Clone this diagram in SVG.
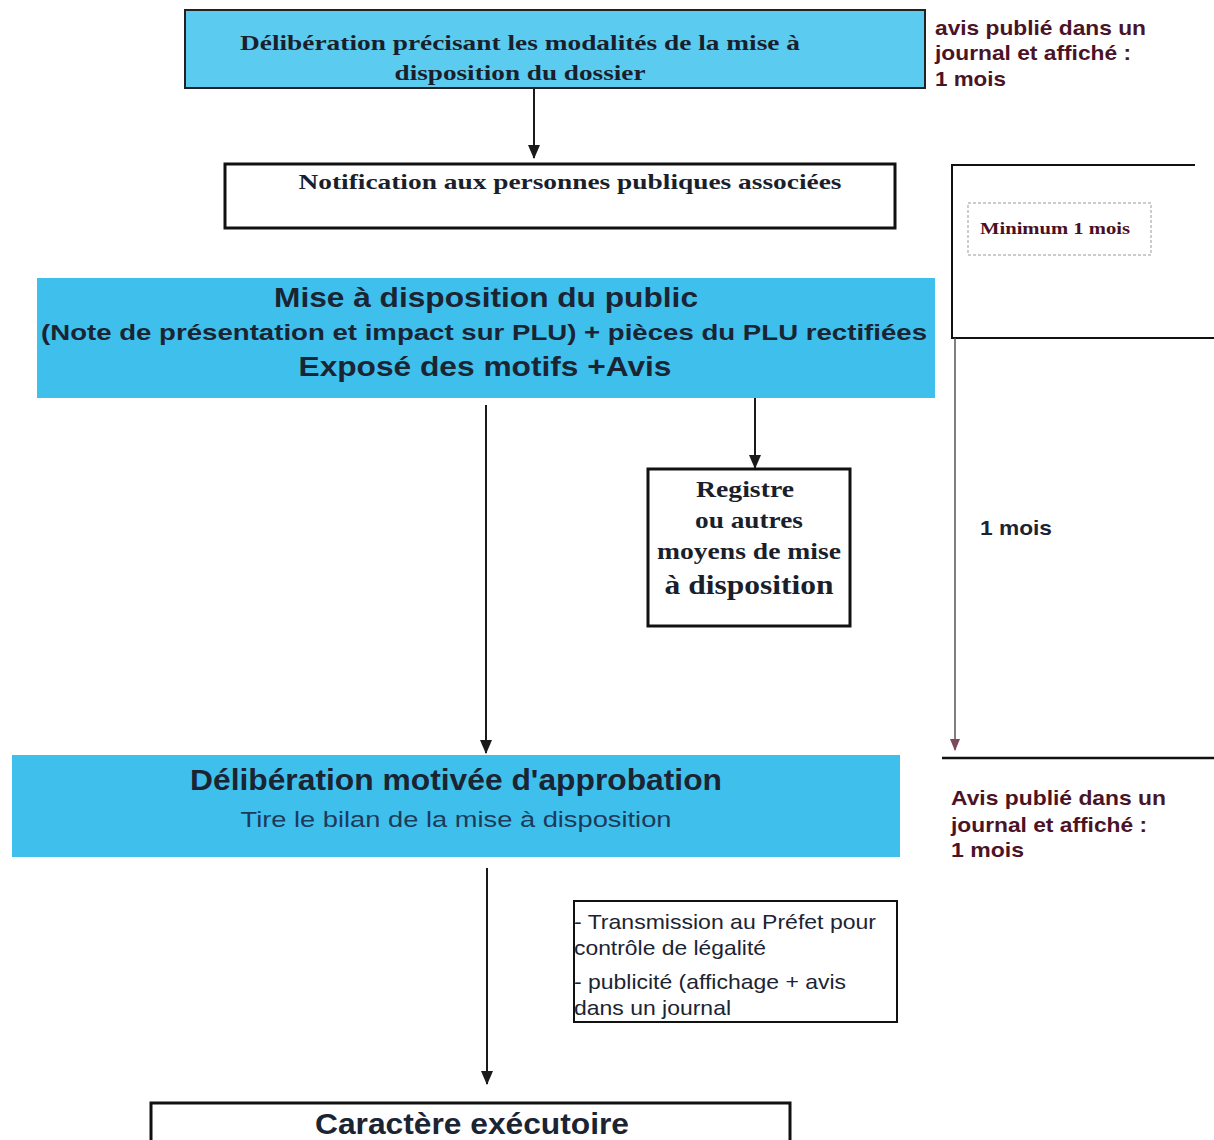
<svg xmlns="http://www.w3.org/2000/svg" width="1214" height="1140" viewBox="0 0 1214 1140">
<style>
.serif{font-family:"Liberation Serif","DejaVu Serif",serif;font-weight:bold;fill:#1a1f2b}
.sans{font-family:"Liberation Sans","Arial",sans-serif;fill:#1b2433}
.b{font-weight:bold}
.maroon{fill:#4a1426}
.conn{stroke:#1a1a1a;stroke-width:2;fill:none}
.box{fill:#ffffff;stroke:#111;stroke-width:3}
.blue{fill:#3fc0ec}
</style>
<defs>
<marker id="ah" markerWidth="14" markerHeight="14" refX="13" refY="7" orient="auto" markerUnits="userSpaceOnUse" viewBox="0 0 14 14">
<path d="M0,1 L14,7 L0,13 Z" fill="#1a1a1a"/>
</marker>
<marker id="ahm" markerWidth="12" markerHeight="12" refX="11" refY="6" orient="auto" markerUnits="userSpaceOnUse" viewBox="0 0 12 12">
<path d="M0,1 L12,6 L0,11 Z" fill="#7a4a5a"/>
</marker>
</defs>

<g id="connectors">
<line class="conn" x1="534" y1="88" x2="534" y2="158" marker-end="url(#ah)"/>
<line class="conn" x1="486" y1="405" x2="486" y2="753" marker-end="url(#ah)"/>
<line class="conn" x1="755" y1="398" x2="755" y2="468" marker-end="url(#ah)"/>
<line class="conn" x1="487" y1="868" x2="487" y2="1084" stroke-width="3" marker-end="url(#ah)"/>
</g>

<g id="deliberation1">
<rect x="185" y="10" width="740" height="78" fill="#5ccbf0" stroke="#222" stroke-width="2"/>
<text class="serif" x="520" y="50" font-size="22" text-anchor="middle" textLength="560" lengthAdjust="spacingAndGlyphs">Délibération précisant les modalités de la mise à</text>
<text class="serif" x="520" y="80" font-size="22" text-anchor="middle" textLength="251" lengthAdjust="spacingAndGlyphs">disposition du dossier</text>
</g>

<g id="avis1">
<text class="sans b maroon" x="935" y="35" font-size="21" textLength="211" lengthAdjust="spacingAndGlyphs">avis publié dans un</text>
<text class="sans b maroon" x="935" y="60" font-size="21" textLength="196" lengthAdjust="spacingAndGlyphs">journal et affiché :</text>
<text class="sans b maroon" x="935" y="86" font-size="21" textLength="71" lengthAdjust="spacingAndGlyphs">1 mois</text>
</g>

<g id="notification">
<rect class="box" x="225" y="164" width="670" height="64"/>
<text class="serif" x="570" y="189" font-size="22" text-anchor="middle" textLength="543" lengthAdjust="spacingAndGlyphs">Notification aux personnes publiques associées</text>
</g>

<g id="bracket">
<path d="M1195,165 H952 V338 H1214" fill="none" stroke="#111" stroke-width="2"/>
<line x1="955" y1="338" x2="955" y2="750" stroke="#555" stroke-width="1.5" marker-end="url(#ahm)"/>
<line x1="942" y1="758" x2="1214" y2="758" stroke="#111" stroke-width="2.5"/>
</g>

<g id="minimum">
<rect x="968" y="203" width="183" height="52" fill="#fff" stroke="#999" stroke-width="1" stroke-dasharray="3,2"/>
<text class="serif" x="980" y="234" font-size="17" style="fill:#4a0f22" textLength="150" lengthAdjust="spacingAndGlyphs">Minimum 1 mois</text>
</g>

<g id="mise-a-disposition">
<rect class="blue" x="37" y="278" width="898" height="120"/>
<text class="sans b" x="486" y="307" font-size="28" text-anchor="middle" textLength="424" lengthAdjust="spacingAndGlyphs">Mise à disposition du public</text>
<text class="sans b" x="484" y="340" font-size="22" text-anchor="middle" textLength="886" lengthAdjust="spacingAndGlyphs">(Note de présentation et impact sur PLU)  + pièces du PLU rectifiées</text>
<text class="sans b" x="485" y="376" font-size="28" text-anchor="middle" textLength="373" lengthAdjust="spacingAndGlyphs">Exposé des motifs +Avis</text>
</g>

<g id="registre">
<rect class="box" x="648" y="469" width="202" height="157"/>
<text class="serif" x="745" y="497" font-size="23" text-anchor="middle" textLength="98" lengthAdjust="spacingAndGlyphs">Registre</text>
<text class="serif" x="749" y="528" font-size="23" text-anchor="middle" textLength="108" lengthAdjust="spacingAndGlyphs">ou autres</text>
<text class="serif" x="749" y="559" font-size="23" text-anchor="middle" textLength="184" lengthAdjust="spacingAndGlyphs">moyens de mise</text>
<text class="serif" x="749" y="594" font-size="27" text-anchor="middle" textLength="169" lengthAdjust="spacingAndGlyphs">à disposition</text>
</g>

<g id="un-mois">
<text class="sans b" x="980" y="535" font-size="21" textLength="72" lengthAdjust="spacingAndGlyphs">1 mois</text>
</g>

<g id="deliberation2">
<rect class="blue" x="12" y="755" width="888" height="102"/>
<text class="sans b" x="456" y="790" font-size="29" text-anchor="middle" textLength="532" lengthAdjust="spacingAndGlyphs">Délibération motivée d'approbation</text>
<text class="sans" x="456" y="827" font-size="22" text-anchor="middle" textLength="431" lengthAdjust="spacingAndGlyphs" style="fill:#1e3a5a">Tire le bilan de la mise à disposition</text>
</g>

<g id="avis2">
<text class="sans b maroon" x="951" y="805" font-size="21" textLength="215" lengthAdjust="spacingAndGlyphs">Avis publié dans un</text>
<text class="sans b maroon" x="951" y="832" font-size="21" textLength="196" lengthAdjust="spacingAndGlyphs">journal et affiché :</text>
<text class="sans b maroon" x="951" y="857" font-size="21" textLength="73" lengthAdjust="spacingAndGlyphs">1 mois</text>
</g>

<g id="transmission">
<rect x="574" y="901" width="323" height="121" fill="#fff" stroke="#111" stroke-width="2"/>
<text class="sans" x="574" y="929" font-size="21" textLength="302" lengthAdjust="spacingAndGlyphs">- Transmission au Préfet pour</text>
<text class="sans" x="574" y="955" font-size="21" textLength="192" lengthAdjust="spacingAndGlyphs">contrôle de légalité</text>
<text class="sans" x="574" y="989" font-size="21" textLength="272" lengthAdjust="spacingAndGlyphs">- publicité (affichage + avis</text>
<text class="sans" x="574" y="1015" font-size="21" textLength="157" lengthAdjust="spacingAndGlyphs">dans un journal</text>
</g>

<g id="caractere">
<rect class="box" x="151" y="1103" width="639" height="60"/>
<text class="sans b" x="472" y="1134" font-size="29" text-anchor="middle" textLength="314" lengthAdjust="spacingAndGlyphs">Caractère exécutoire</text>
</g>
</svg>
